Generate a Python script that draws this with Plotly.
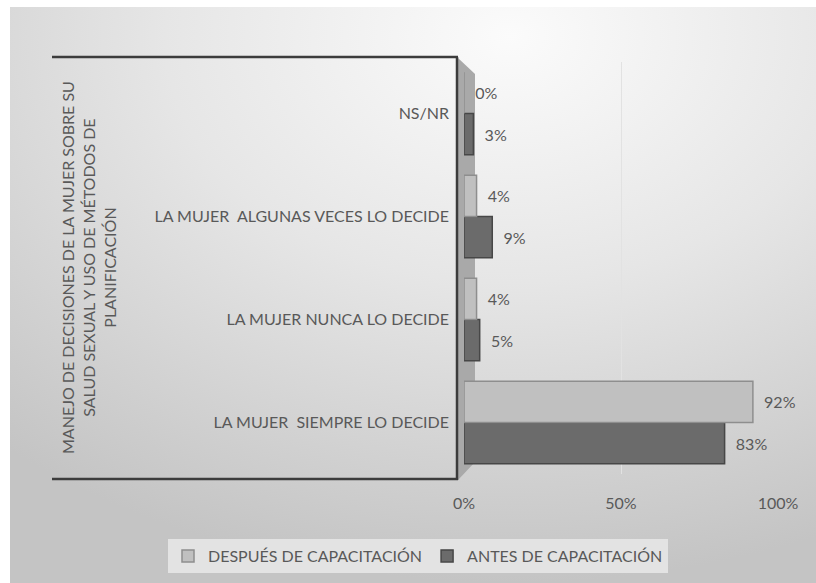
"""Manejo de decisiones de la mujer - barras horizontales antes/después."""

import base64

import plotly.graph_objects as go

W, H = 816, 583

categorias = [
    "LA MUJER  SIEMPRE LO DECIDE",
    "LA MUJER NUNCA LO DECIDE",
    "LA MUJER  ALGUNAS VECES LO DECIDE",
    "NS/NR",
]
antes = [0.83, 0.05, 0.09, 0.03]
despues = [0.92, 0.04, 0.04, 0.00]

titulo_eje = ("MANEJO DE DECISIONES DE LA MUJER SOBRE SU<br>"
              "SALUD SEXUAL Y USO DE MÉTODOS DE<br>PLANIFICACIÓN")

FONT = "Lato"
GRIS_TXT = "#595959"


def px(x):
    return x / W


def py(y):
    return 1 - y / H


# fondo degradado como imagen svg
svg = """<svg xmlns='http://www.w3.org/2000/svg' width='806' height='576' preserveAspectRatio='none'>
<defs><radialGradient id='g' cx='0.62' cy='0.05' r='0.95'>
<stop offset='0' stop-color='#fbfbfb'/>
<stop offset='0.45' stop-color='#e6e6e6'/>
<stop offset='1' stop-color='#c4c4c4'/>
</radialGradient></defs>
<rect width='806' height='576' fill='url(#g)'/>
</svg>"""
fondo = "data:image/svg+xml;base64," + base64.b64encode(svg.encode()).decode()

etiqueta = "\u00a0\u00a0%{x:.0%}"

fig = go.Figure()
fig.add_trace(go.Bar(
    y=categorias, x=antes, orientation="h", name="ANTES DE CAPACITACIÓN",
    marker=dict(color="#6b6b6b", line=dict(color="#474747", width=1.5)),
    text=antes, texttemplate=etiqueta, textposition="outside",
    textfont=dict(family=FONT, size=16, color=GRIS_TXT), cliponaxis=False,
))
fig.add_trace(go.Bar(
    y=categorias, x=despues, orientation="h", name="DESPUÉS DE CAPACITACIÓN",
    marker=dict(color="#c0c0c0", line=dict(color="#8e8e8e", width=1.5)),
    text=despues, texttemplate=etiqueta, textposition="outside",
    textfont=dict(family=FONT, size=16, color=GRIS_TXT), cliponaxis=False,
))

# pared lateral gris (efecto 3d) y marco de categorias
fig.add_shape(type="path", xref="paper", yref="paper",
              path=f"M {px(458)},{py(58)} L {px(475)},{py(74)} L {px(475)},{py(462)} "
                   f"L {px(458)},{py(480)} Z",
              fillcolor="#a9a9a9", line=dict(width=0), layer="below")
for x0, y0, x1, y1 in [(52, 57, 458, 57), (52, 479, 458, 479), (457, 57, 457, 480)]:
    fig.add_shape(type="line", xref="paper", yref="paper",
                  x0=px(x0), y0=py(y0), x1=px(x1), y1=py(y1),
                  line=dict(color="#3c3c3c", width=2.5))

fig.add_annotation(text=titulo_eje, xref="paper", yref="paper", x=px(88), y=py(268),
                   xanchor="center", yanchor="middle", textangle=-90, showarrow=False,
                   font=dict(family=FONT, size=16, color=GRIS_TXT))

fig.add_layout_image(source=fondo, xref="paper", yref="paper", x=px(10), y=py(7),
                     sizex=1 - px(10), sizey=1 - 7 / H, xanchor="left", yanchor="top",
                     sizing="stretch", layer="below")

fig.update_layout(
    width=W, height=H, autosize=False, margin=dict(l=0, r=0, t=0, b=0),
    paper_bgcolor="white", plot_bgcolor="rgba(0,0,0,0)",
    barmode="group", bargap=0.2, bargroupgap=0,
    font=dict(family=FONT, size=16, color=GRIS_TXT),
    showlegend=True,
    legend=dict(orientation="h", traceorder="reversed", x=px(418), y=py(556),
                xanchor="center", yanchor="middle", bgcolor="#e3e3e3",
                itemwidth=30, font=dict(family=FONT, size=16, color=GRIS_TXT)),
    xaxis=dict(domain=[px(464), px(778)], range=[0, 1], dtick=0.5, tickformat=".0%",
               showgrid=True, gridcolor="#e2e2e2", zeroline=False, showline=False,
               ticks="", ticklabelstandoff=18, automargin=False,
               tickfont=dict(family=FONT, size=16, color=GRIS_TXT)),
    yaxis=dict(domain=[py(474), py(62)], showgrid=False, zeroline=False, showline=False,
               ticks="", ticklabelstandoff=14, automargin=False,
               tickfont=dict(family=FONT, size=16, color=GRIS_TXT)),
)

# quitar el margen del body para que la figura ocupe toda la ventana
ajuste = ("document.body.style.margin='0';document.body.style.overflow='hidden';"
          "var gd=document.getElementById('{plot_id}');"
          "Plotly.relayout(gd,{width:%d,height:%d});" % (W, H))

fig.write_html("out.html", config={"responsive": False, "displayModeBar": False},
               post_script=ajuste)
